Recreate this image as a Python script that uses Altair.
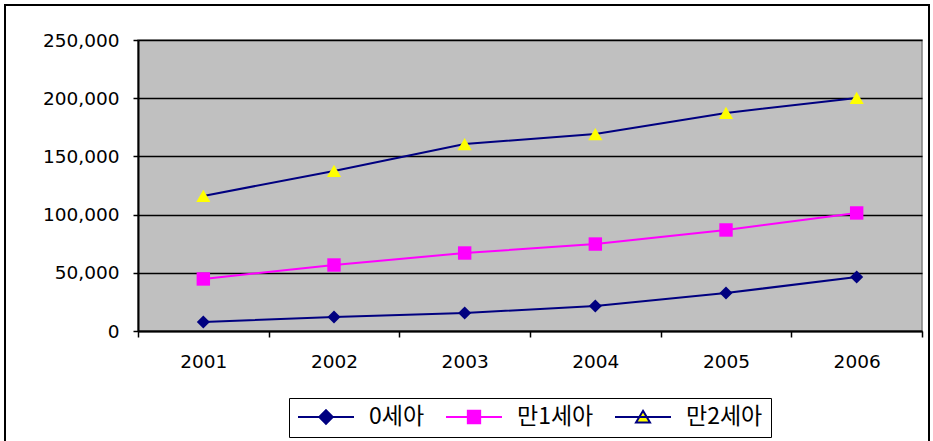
import altair as alt
import pandas as pd

# Yearly counts by age group
years = ["2001", "2002", "2003", "2004", "2005", "2006"]
series_names = ["0세아", "만1세아", "만2세아"]
age0 = [7700, 12000, 15500, 21500, 32600, 46400]
age1 = [44700, 56700, 67000, 74700, 86800, 101400]
age2 = [116000, 137500, 160600, 169200, 187300, 200200]
y_ticks = [0, 50000, 100000, 150000, 200000, 250000]

rows = []
for name, vals in zip(series_names, [age0, age1, age2]):
    for yr, v in zip(years, vals):
        rows.append({"year": yr, "series": name, "value": v})
df = pd.DataFrame(rows)

NAVY = "#000080"
MAGENTA = "#FF00FF"
YELLOW = "#FFFF00"
line_colors = [NAVY, MAGENTA, NAVY]
marker_colors = [NAVY, MAGENTA, YELLOW]
marker_shapes = ["diamond", "square", "triangle-up"]

# legend glyphs: a line segment with the marker on it
legend_paths = [
    "M-1,0H1M0,-0.24L0.24,0L0,0.24L-0.24,0Z",
    "M-1,0H1M-0.22,-0.22H0.22V0.22H-0.22Z",
    "M-1,0H1M0,-0.22L0.25,0.2H-0.25Z",
]

W, H = 784, 291
AXIS_FONT = "DejaVu Sans"

x_enc = alt.X(
    "year:O",
    scale=alt.Scale(type="band", domain=years, paddingInner=0, paddingOuter=0),
    axis=alt.Axis(
        title=None, labelAngle=0, tickBand="extent", tickSize=6,
        tickColor="black", tickWidth=1.5, domainColor="black", domainWidth=2,
        labelPadding=15, labelFontSize=18.5, labelFont=AXIS_FONT,
        labelColor="black", grid=False,
    ),
)
y_enc = alt.Y(
    "value:Q",
    scale=alt.Scale(domain=[0, 250000], nice=False),
    axis=alt.Axis(
        title=None, values=y_ticks, format=",.0f", tickSize=5, tickColor="black",
        tickWidth=1.5, domainColor="black", domainWidth=2, labelPadding=14,
        labelFontSize=18.5, labelFont=AXIS_FONT, labelColor="black",
        grid=True, gridColor="black", gridWidth=1.5, gridOpacity=1,
    ),
)

stroke_scale = alt.Scale(domain=series_names, range=line_colors)
fill_scale = alt.Scale(domain=series_names, range=marker_colors)
shape_scale = alt.Scale(domain=series_names, range=legend_paths)

legend = alt.Legend(
    title=None, orient="none", legendX=151, legendY=358, direction="horizontal",
    strokeColor="black", fillColor="white", padding=8, clipHeight=22,
    labelFont="Noto Sans CJK KR", labelFontSize=23, labelColor="black",
    symbolSize=3136, symbolStrokeWidth=2, columnPadding=20, labelOffset=14,
    labelLimit=200,
)

base = alt.Chart(df)

border = alt.Chart(pd.DataFrame({"k": [0]})).mark_rect(
    fillOpacity=0, stroke="black", strokeWidth=2
).encode(
    x=alt.value(5 - 138), x2=alt.value(929 - 138),
    y=alt.value(5 - 40), y2=alt.value(441 - 40 + 10),
)

lines = base.mark_line(strokeWidth=2).encode(
    x=x_enc, y=y_enc,
    stroke=alt.Stroke("series:N", scale=stroke_scale, legend=None),
    detail="series:N",
)

point_layers = []
for name, shape, color, size in zip(series_names, marker_shapes, marker_colors, [170, 180, 200]):
    point_layers.append(
        base.transform_filter(alt.datum.series == name)
        .mark_point(shape=shape, filled=True, fill=color, stroke=color,
                    strokeWidth=0, size=size, opacity=1)
        .encode(x=x_enc, y=y_enc)
    )

# carries the legend only; its marks have zero size
legend_layer = base.mark_point(
    filled=True, opacity=1, strokeWidth=2, size=0
).encode(
    x=x_enc, y=y_enc,
    shape=alt.Shape("series:N", scale=shape_scale, legend=legend),
    fill=alt.Fill("series:N", scale=fill_scale, legend=legend),
    stroke=alt.Stroke("series:N", scale=stroke_scale, legend=legend),
)

chart = alt.layer(border, legend_layer, lines, *point_layers).properties(
    width=W, height=H,
    autosize=alt.AutoSizeParams(type="none"),
    padding={"left": 138, "top": 40, "right": 11, "bottom": 110},
    background="white",
).configure_view(
    fill="#C0C0C0", stroke="#808080", strokeWidth=1.5
)

chart.save("out.html", embed_options={"renderer": "svg", "actions": False})
